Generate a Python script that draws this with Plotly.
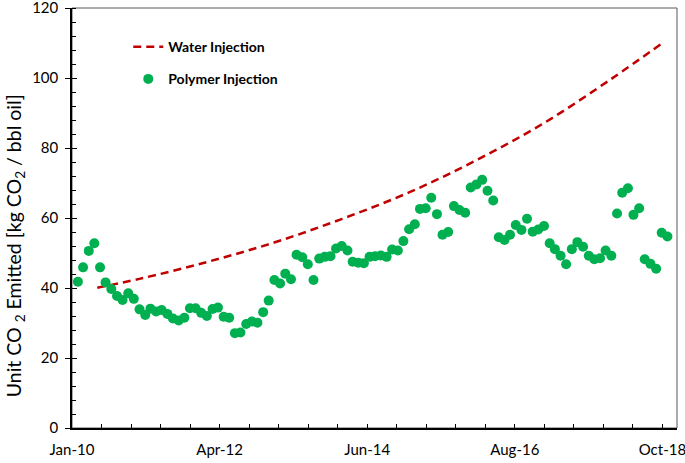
import plotly.graph_objects as go
import pandas as pd

# ---- data ----
polymer_start = "2010-02-23"
polymer_values = [
    41.8, 45.9, 50.6, 52.8, 45.9, 41.6, 39.7, 37.7, 36.6, 38.5, 36.9, 33.9,
    32.3, 34.1, 33.3, 33.7, 32.6, 31.3, 30.7, 31.5, 34.2, 34.2,
    32.9, 32.0, 34.0, 34.4, 31.8, 31.5, 27.1, 27.3, 29.7, 30.4, 30.1, 33.1,
    36.4, 42.3, 41.3, 44.1, 42.5, 49.5, 48.8, 46.8, 42.3, 48.4, 48.9,
    49.1, 51.3, 52.0, 50.7, 47.5, 47.2, 47.1, 48.9, 49.1, 49.3, 48.9, 51.0,
    50.7, 53.4, 56.8, 58.2, 62.6, 62.8, 65.8, 61.1, 55.2, 56.0,
    63.4, 62.3, 61.5, 68.7, 69.6, 70.9, 67.8, 65.0, 54.5, 53.7, 55.2, 58.0,
    56.6, 59.8, 56.1, 56.7, 57.7, 52.8, 51.1, 49.2, 46.8, 51.1,
    53.1, 51.8, 49.2, 48.2, 48.5, 50.7, 49.2, 61.3, 67.2, 68.5, 60.9, 62.8,
    48.2, 46.9, 45.5, 55.8, 54.7,
]
polymer_dates = pd.date_range(polymer_start, periods=len(polymer_values),
                              freq=pd.DateOffset(months=1))

water_dates = ["2010-06-08", "2011-01-22", "2012-01-22", "2013-01-22",
               "2014-01-22", "2015-01-22", "2016-01-22", "2017-01-22",
               "2018-01-22", "2018-10-27"]
water_values = [40.1, 42.6, 47.4, 53.0, 59.7, 67.3, 76.5, 87.1, 99.7, 110.0]

x_tick_dates = ["2010-01-22", "2012-04-01", "2014-06-10", "2016-08-18", "2018-10-27"]
x_tick_labels = ["Jan-10", "Apr-12", "Jun-14", "Aug-16", "Oct-18"]
x_range = ["2010-01-22", "2019-01-14"]
y_ticks = [0, 20, 40, 60, 80, 100, 120]

FONT = "Lato"
DAY_MS = 86400000

fig = go.Figure()
fig.add_trace(go.Scatter(
    x=water_dates, y=water_values, mode="lines", name="Water Injection",
    line=dict(color="#C00000", width=2.5, dash="8px,5px", shape="spline"),
    legendgroup="w",
))
fig.add_trace(go.Scatter(
    x=polymer_dates, y=polymer_values, mode="markers", name="Polymer Injection",
    marker=dict(color="#00B050", size=10),
    legendgroup="p",
))
fig.add_trace(go.Scatter(x=[None], y=[None], yaxis="y2", showlegend=False,
                         hoverinfo="skip"))

fig.update_layout(
    template="none",
    width=685, height=463,
    margin=dict(l=72, r=8, t=8, b=35, autoexpand=False),
    plot_bgcolor="white", paper_bgcolor="white",
    font=dict(family=FONT, color="black"),
    showlegend=True,
    legend=dict(
        x=0.093, y=0.945, xanchor="left", yanchor="top",
        bgcolor="rgba(0,0,0,0)", tracegroupgap=11,
        font=dict(family=FONT, size=14, color="black", weight="bold"),
        itemwidth=30,
    ),
    xaxis=dict(
        type="date", range=x_range, automargin=False,
        tickmode="array", tickvals=x_tick_dates, ticktext=x_tick_labels,
        ticks="inside", ticklen=4, tickcolor="black", tickwidth=1,
        showline=True, linecolor="black", linewidth=1.5,
        showgrid=False, zeroline=False, ticklabeloverflow="allow",
        tickfont=dict(family=FONT, size=15, color="black"),
        ticklabelstandoff=7,
        minor=dict(tickmode="linear", tick0="2010-01-22", dtick=160 * DAY_MS,
                   ticks="inside", ticklen=4, tickcolor="black", tickwidth=1,
                   showgrid=False),
    ),
    yaxis=dict(
        range=[0, 120], tickmode="array", tickvals=y_ticks, automargin=False,
        ticks="outside", ticklen=5, tickcolor="black", tickwidth=1,
        showline=True, linecolor="black", linewidth=1.5,
        showgrid=False, zeroline=False, ticklabeloverflow="allow",
        tickfont=dict(family=FONT, size=15, color="black"),
        ticklabelstandoff=4,
        minor=dict(tickmode="linear", tick0=0, dtick=4, ticks="inside",
                   ticklen=4, tickcolor="black", tickwidth=1, showgrid=False),
    ),
    yaxis2=dict(
        range=[0, 120], overlaying="y", side="left", tickmode="array",
        tickvals=y_ticks, ticks="inside", ticklen=5, tickcolor="black",
        showticklabels=False, showline=False, showgrid=False, zeroline=False,
        automargin=False,
    ),
    shapes=[dict(type="rect", xref="paper", yref="paper", x0=0, x1=1, y0=0, y1=1,
                 line=dict(color="#595959", width=1), layer="below")],
    annotations=[dict(
        text="Unit CO <sub>2</sub> Emitted [kg CO<sub>2</sub> / bbl oil]",
        textangle=-90, xref="paper", yref="paper", x=-0.094, y=0.433,
        xanchor="center", yanchor="middle", showarrow=False,
        font=dict(family=FONT, size=19.5, color="black"),
    )],
)

fig.write_html(
    "out.html",
    config={"displayModeBar": False},
    post_script="document.body.style.margin='0';document.body.style.overflow='hidden';",
)
